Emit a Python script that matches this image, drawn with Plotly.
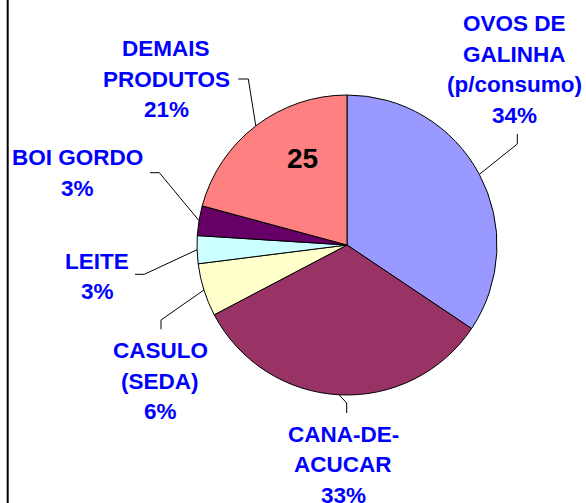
import math
import plotly.graph_objects as go

# ---- data ----
categories = ["OVOS DE GALINHA (p/consumo)", "CANA-DE-ACUCAR", "CASULO (SEDA)",
              "LEITE", "BOI GORDO", "DEMAIS PRODUTOS"]
label_lines = [["OVOS DE", "GALINHA", "(p/consumo)"],
               ["CANA-DE-", "ACUCAR"],
               ["CASULO", "(SEDA)"],
               ["LEITE"],
               ["BOI GORDO"],
               ["DEMAIS", "PRODUTOS"]]
values = [34.4, 32.9, 5.7, 3.0, 3.2, 20.8]
colors = ["#9999FF", "#993366", "#FFFFCC", "#CCFFFF", "#660066", "#FF8080"]
inner_note = "25"

# ---- layout geometry (pixels) ----
W, H = 586, 503
CX, CY, R = 347, 245, 150
FS = 22.5
LINE_GAP = 30.5
# first-line baseline and x-centre of each label block
label_pos = [(514, 31.7), (343, 442.3), (160, 359), (97, 269.3), (77, 166), (166, 56.7)]
# elbow points of leader lines (from pie edge -> elbow -> end)
elbows = [[(517.3, 144), (517.3, 134)],
          [(346.7, 403), (346.7, 413)],
          [(161, 320), (161, 329.3)],
          [(144.3, 274.3), (135, 274.3)],
          [(159.3, 172.7), (150, 172.7)],
          [(248.3, 79), (238.3, 79)]]

fig = go.Figure()
fig.add_trace(go.Pie(
    labels=categories, values=values, sort=False, direction="clockwise", rotation=0,
    marker=dict(colors=colors, line=dict(color="black", width=1)),
    textinfo="none", hoverinfo="label+percent", showlegend=False,
    domain=dict(x=[(CX - R) / W, (CX + R) / W], y=[1 - (CY + R) / H, 1 - (CY - R) / H]),
))

# invisible pixel-space axes for annotations & leader lines
fig.add_trace(go.Scatter(x=[0, W], y=[0, H], mode="markers", marker=dict(opacity=0),
                         hoverinfo="skip", showlegend=False))

total = sum(values)
shapes = []
annotations = []
cum = 0.0
for i, v in enumerate(values):
    mid = (cum + v / 2) / total * 2 * math.pi
    cum += v
    ax, ay = CX + R * math.sin(mid), CY - R * math.cos(mid)
    pts = [(ax, ay)] + elbows[i]
    path = "M " + " L ".join(f"{px},{py}" for px, py in pts)
    shapes.append(dict(type="path", path=path, xref="x", yref="y",
                       line=dict(color="black", width=1)))
    pct = f"{round(v / total * 100)}%"
    lines = label_lines[i] + [pct]
    lx, ly = label_pos[i]
    for k, t in enumerate(lines):
        annotations.append(dict(
            x=lx, y=ly + k * LINE_GAP - 0.36 * FS, xref="x", yref="y",
            text=f"<b>{t}</b>", showarrow=False, xanchor="center", yanchor="middle",
            font=dict(family="Liberation Sans, Arial, sans-serif", size=FS, color="#0000FF"),
        ))

annotations.append(dict(x=302, y=158, xref="x", yref="y", text=f"<b>{inner_note}</b>",
                        showarrow=False, xanchor="center", yanchor="middle",
                        font=dict(family="Liberation Sans, Arial, sans-serif", size=28, color="black")))

# left frame line
shapes.append(dict(type="line", xref="x", yref="y", x0=7.7, x1=7.7, y0=0, y1=H,
                   line=dict(color="black", width=2)))

fig.update_layout(
    width=W, height=H, margin=dict(l=0, r=0, t=0, b=0),
    paper_bgcolor="white", plot_bgcolor="rgba(0,0,0,0)",
    xaxis=dict(range=[0, W], visible=False, domain=[0, 1], fixedrange=True),
    yaxis=dict(range=[H, 0], visible=False, domain=[0, 1], fixedrange=True),
    shapes=shapes, annotations=annotations,
)

fig.write_html("out.html", config={"displayModeBar": False},
               post_script="document.body.style.margin='0';document.body.style.overflow='hidden';")
